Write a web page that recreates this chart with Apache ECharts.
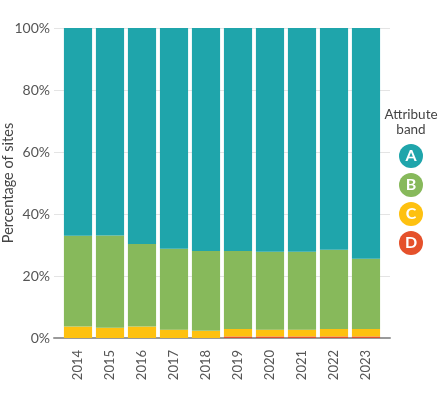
<!DOCTYPE html>
<html>
<head>
<meta charset="utf-8">
<script src="https://cdn.jsdelivr.net/npm/echarts@6/dist/echarts.min.js"></script>
<style>
  html, body { margin: 0; padding: 0; background: #fff; }
  #chart { width: 439px; height: 398px; }
</style>
</head>
<body>
<div id="chart"></div>
<script>
// years on the x axis
const years = ['2014', '2015', '2016', '2017', '2018', '2019', '2020', '2021', '2022', '2023']
// share of sites per attribute band (%), stacked bottom to top D, C, B, A
const bandD = [0, 0, 0, 0, 0, 0.5, 0.5, 0.5, 0.5, 0.5]
const bandC = [3.7, 3.3, 3.7, 2.7, 2.3, 2.4, 2.2, 2.2, 2.4, 2.4]
const bandB = [29.3, 29.8, 26.6, 26.1, 25.8, 25.2, 25.1, 25.1, 25.6, 22.7]
const bandA = [67.0, 66.9, 69.7, 71.2, 71.9, 71.9, 72.2, 72.2, 71.5, 74.4]
const yTicks = [0, 20, 40, 60, 80, 100]

const colors = { A: '#1fa5ab', B: '#87b95b', C: '#fec110', D: '#e5512b' }
const font = 'Lato, "Open Sans", sans-serif'

const chart = echarts.init(document.getElementById('chart'))

// legend badges: coloured circle with a white letter
const rich = {}
Object.keys(colors).forEach(function (k) {
  rich[k] = {
    backgroundColor: colors[k],
    borderRadius: 12,
    width: 24,
    height: 24,
    lineHeight: 24,
    align: 'center',
    color: '#fff',
    fontWeight: 'bold',
    fontSize: 16,
    fontFamily: font
  }
})

function bar(name, data) {
  return {
    name: name,
    type: 'bar',
    stack: 'all',
    xAxisIndex: 1,
    yAxisIndex: 1,
    data: data,
    barCategoryGap: '12%',
    itemStyle: { color: colors[name] },
    emphasis: { disabled: true }
  }
}

chart.setOption({
  animation: false,
  textStyle: { fontFamily: font },
  title: {
    text: '{t|Attribute}\n{t|band}',
    left: 380,
    top: 107,
    padding: 0,
    textStyle: {
      fontWeight: 'normal',
      rich: {
        t: { width: 62, align: 'center', fontSize: 13.5, fontWeight: 'normal', lineHeight: 15, color: '#444', fontFamily: font }
      }
    }
  },
  legend: {
    orient: 'vertical',
    left: 389,
    top: 139,
    itemWidth: 0,
    itemHeight: 0,
    itemGap: 5,
    selectedMode: false,
    data: ['A', 'B', 'C', 'D'],
    formatter: function (name) { return '{' + name + '|' + name + '}' },
    textStyle: { rich: rich }
  },
  grid: [
    // background grid: gridlines, axis line, y labels
    { left: 54, right: 49, top: 28, bottom: 60, outerBoundsMode: 'none' },
    // bars
    { left: 62, right: 57, top: 28, bottom: 60, outerBoundsMode: 'none' }
  ],
  xAxis: [
    {
      gridIndex: 0,
      type: 'value',
      min: 0,
      max: 1,
      axisLine: { show: true, lineStyle: { color: '#9a9a9a', width: 2 } },
      axisTick: { show: false },
      axisLabel: { show: false },
      splitLine: { show: false }
    },
    {
      gridIndex: 1,
      type: 'category',
      data: years,
      axisLine: { show: false },
      axisTick: { show: false },
      axisLabel: { rotate: 90, margin: 12, fontSize: 13, color: '#555', fontFamily: font }
    }
  ],
  yAxis: [
    {
      gridIndex: 0,
      type: 'value',
      min: 0,
      max: 100,
      interval: 20,
      name: 'Percentage of sites',
      nameLocation: 'middle',
      nameGap: 38,
      nameMoveOverlap: false,
      nameTextStyle: { fontSize: 14.5, color: '#444', fontFamily: font },
      axisLine: { show: false },
      axisTick: { show: false },
      axisLabel: {
        margin: 4,
        fontSize: 14,
        color: '#555',
        fontFamily: font,
        formatter: function (v) { return yTicks.indexOf(v) >= 0 ? v + '%' : '' }
      },
      splitLine: { lineStyle: { color: '#e4e4e4', width: 1 } }
    },
    {
      gridIndex: 1,
      type: 'value',
      min: 0,
      max: 100,
      show: false
    }
  ],
  series: [
    bar('D', bandD),
    bar('C', bandC),
    bar('B', bandB),
    bar('A', bandA)
  ]
})
</script>
</body>
</html>
